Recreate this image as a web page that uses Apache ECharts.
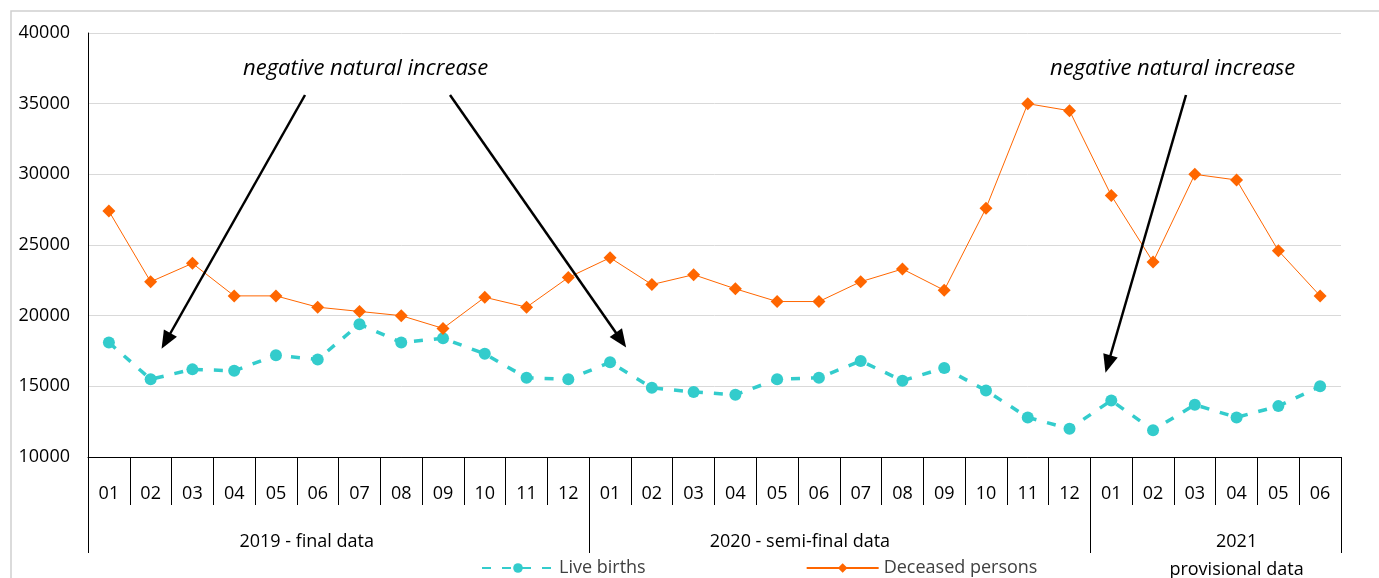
<!DOCTYPE html>
<html>
<head>
<meta charset="utf-8">
<script src="https://cdn.jsdelivr.net/npm/echarts@6/dist/echarts.min.js"></script>
<style>
    html, body { margin: 0; padding: 0; background: #fff; }
    #main { width: 1379px; height: 578px; }
</style>
</head>
<body>
<div id="main"></div>
<script>
// months on the axis (2019-01 .. 2021-06)
var months = ['01','02','03','04','05','06','07','08','09','10','11','12',
              '01','02','03','04','05','06','07','08','09','10','11','12',
              '01','02','03','04','05','06'];
var liveBirths = [18100, 15500, 16200, 16100, 17200, 16900, 19400, 18100, 18400, 17300, 15600, 15500,
                  16700, 14900, 14600, 14400, 15500, 15600, 16800, 15400, 16300, 14700, 12800, 12000,
                  14000, 11900, 13700, 12800, 13600, 15000];
var deceased = [27400, 22400, 23700, 21400, 21400, 20600, 20300, 20000, 19100, 21300, 20600, 22700,
                24100, 22200, 22900, 21900, 21000, 21000, 22400, 23300, 21800, 27600, 35000, 34500,
                28500, 23800, 30000, 29600, 24600, 21400];
// year groups under the months
var groupStarts = [0, 12, 24];
var groupLabelAt = [5, 17, 27];
var groupLabels = ['2019 - final data', '2020 - semi-final data', '2021\nprovisional data'];
var annotation = 'negative natural increase';

var font = '"Open Sans", "Liberation Sans", sans-serif';

//第二层x轴: 每组只在中间显示一个标签
var groupAxisData = months.map(function (m, i) {
    var k = groupLabelAt.indexOf(i);
    if (k < 0) return {value: m};
    var pad = k === 0 ? [0, 22, 0, 0] : (k === 1 ? [0, 38, 0, 0] : [0, 0, 0, 0]);
    return {value: m, textStyle: {padding: pad}};
});

var chart = echarts.init(document.getElementById('main'));
var option = {
    animation: false,
    backgroundColor: '#fff',
    grid: {left: 88, right: 38, top: 33, bottom: 121, containLabel: false, outerBoundsMode: 'none'},
    graphic: [
        {
            type: 'rect', silent: true, z: -1,
            shape: {x: 11, y: 11, width: 1420, height: 620},
            style: {fill: 'none', stroke: '#d0d0d0', lineWidth: 1.5}
        },
        {
            type: 'text', left: 243, top: 58,
            style: {text: annotation, fontStyle: 'italic', fontSize: 22, fontFamily: font, fill: '#000'}
        },
        {
            type: 'text', left: 1050, top: 58,
            style: {text: annotation, fontStyle: 'italic', fontSize: 22, fontFamily: font, fill: '#000'}
        }
    ],
    legend: {
        left: 476, top: 554,
        itemWidth: 72, itemHeight: 12, itemGap: 160, itemTextGap: 6,
        textStyle: {fontSize: 18, fontFamily: font, color: '#404040'},
        data: ['Live births', 'Deceased persons']
    },
    xAxis: [
        {
            type: 'category',
            data: months,
            boundaryGap: true,
            axisLine: {show: true, lineStyle: {color: '#000', width: 1}},
            axisTick: {show: true, interval: 0, length: 48, lineStyle: {color: '#000', width: 1}},
            axisLabel: {interval: 0, margin: 28, fontSize: 18, fontFamily: font, color: '#000'},
            splitLine: {show: false}
        },
        {
            type: 'category',
            data: groupAxisData,
            position: 'bottom',
            boundaryGap: true,
            axisLine: {show: false},
            axisTick: {
                show: true, length: 96, lineStyle: {color: '#000', width: 1},
                interval: function (i) { return groupStarts.indexOf(i) >= 0; }
            },
            axisLabel: {
                interval: 0, margin: 71, fontSize: 18, fontFamily: font, color: '#000', lineHeight: 28,
                formatter: function (v, i) {
                    var k = groupLabelAt.indexOf(i);
                    return k < 0 ? '' : groupLabels[k];
                }
            },
            splitLine: {show: false}
        }
    ],
    yAxis: {
        type: 'value',
        min: 10000, max: 40000, interval: 5000,
        axisLine: {show: true, lineStyle: {color: '#000', width: 1}},
        axisTick: {show: false},
        axisLabel: {margin: 18, fontSize: 18, fontFamily: font, color: '#000', formatter: function (v) { return String(v); }},
        splitLine: {lineStyle: {color: '#d9d9d9', width: 1}}
    },
    series: [
        {
            name: 'Live births',
            type: 'line',
            data: liveBirths,
            symbol: 'circle',
            symbolSize: 12,
            itemStyle: {color: '#33cccc'},
            lineStyle: {color: '#33cccc', width: 3.5, type: [9, 11]}
        },
        {
            name: 'Deceased persons',
            type: 'line',
            data: deceased,
            symbol: 'diamond',
            symbolSize: 13,
            itemStyle: {color: '#ff6600'},
            lineStyle: {color: '#ff6600', width: 1},
            markLine: {
                silent: true,
                symbol: ['none', 'triangle'],
                symbolSize: [15, 18],
                label: {show: false},
                lineStyle: {color: '#000', width: 2.5, type: 'solid'},
                itemStyle: {color: '#000'},
                data: [
                    [{x: 305, y: 95}, {x: 166, y: 341}],
                    [{x: 450, y: 95}, {x: 621, y: 340}],
                    [{x: 1186, y: 95}, {x: 1108, y: 364}]
                ]
            }
        }
    ]
};
chart.setOption(option);
</script>
</body>
</html>
